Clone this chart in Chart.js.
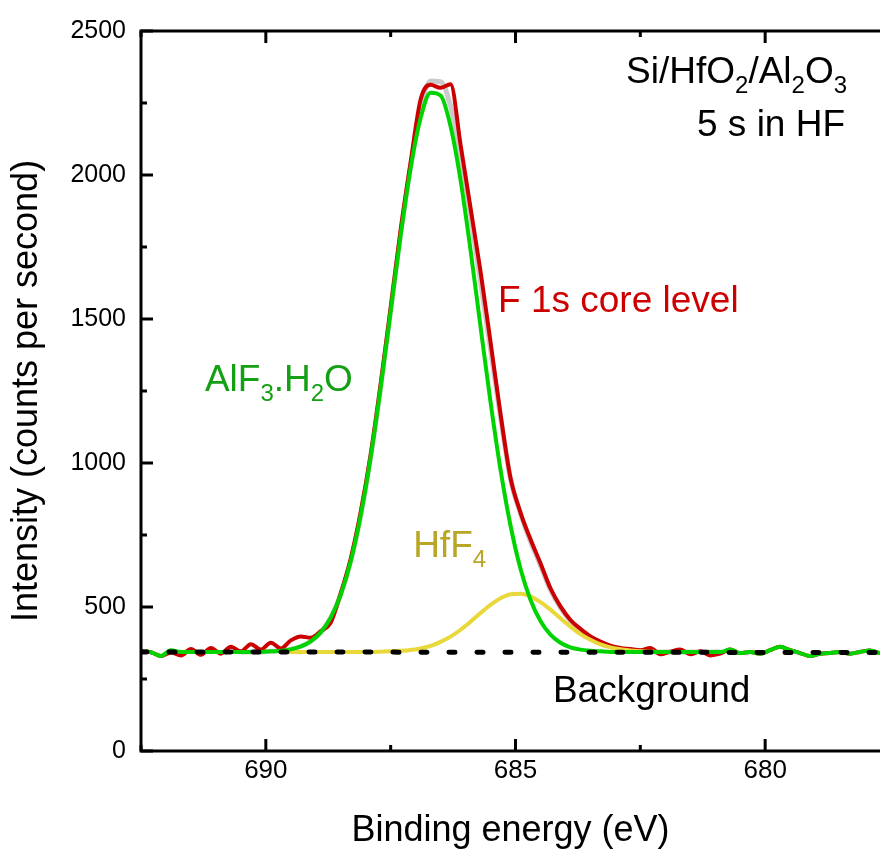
<!DOCTYPE html>
<html>
<head>
<meta charset="utf-8">
<script src="https://cdn.jsdelivr.net/npm/chart.js@4.4.1/dist/chart.umd.min.js"></script>
<style>
  html, body { margin: 0; padding: 0; background: #fff; overflow: hidden; }
  canvas { display: block; }
</style>
</head>
<body>
<canvas id="xps" width="880" height="856"></canvas>
<script>
// F 1s spectrum, binding energy in eV (0.2 eV steps)
const energy = [
  692.5, 692.3, 692.1, 691.9, 691.7, 691.5, 691.3, 691.1, 690.9, 690.7,
  690.5, 690.3, 690.1, 689.9, 689.7, 689.5, 689.3, 689.1, 688.9, 688.7,
  688.5, 688.3, 688.1, 687.9, 687.7, 687.5, 687.3, 687.1, 686.9, 686.7,
  686.5, 686.3, 686.1, 685.9, 685.7, 685.5, 685.3, 685.1, 684.9, 684.7,
  684.5, 684.3, 684.1, 683.9, 683.7, 683.5, 683.3, 683.1, 682.9, 682.7,
  682.5, 682.3, 682.1, 681.9, 681.7, 681.5, 681.3, 681.1, 680.9, 680.7,
  680.5, 680.3, 680.1, 679.9, 679.7, 679.5, 679.3, 679.1, 678.9, 678.7,
  678.5, 678.3, 678.1, 677.9, 677.7
];

// measured counts per second
const measured = [
  346, 343, 330, 342, 332, 354, 334, 358, 338, 362,
  346, 371, 352, 376, 356, 384, 398, 393, 416, 446,
  548, 668, 830, 1030, 1275, 1540, 1810, 2045, 2262, 2313,
  2303, 2315, 2105, 1885, 1665, 1420, 1170, 948, 828, 735,
  652, 565, 502, 455, 424, 398, 380, 366, 358, 354,
  350, 358, 336, 345, 352, 336, 346, 332, 338, 352,
  340, 344, 338, 350, 362, 350, 340, 330, 338, 340,
  344, 338, 344, 349, 340
];

// AlF3.H2O component (data outside the fit window)
const fitAlF3 = [
  346, 343, 330, 350, 344, 344, 344, 344, 344, 344,
  344, 344, 344, 346, 348, 353, 363, 381, 412, 463,
  543, 659, 818, 1021, 1262, 1527, 1791, 2024, 2198, 2286,
  2276, 2169, 1982, 1739, 1473, 1212, 977, 783, 633, 525,
  451, 404, 376, 360, 352, 348, 346, 344, 344, 344,
  344, 344, 344, 344, 344, 344, 344, 344, 344, 352,
  340, 344, 338, 350, 362, 350, 340, 330, 338, 340,
  344, 338, 344, 349, 340
];

// HfF4 component
const fitHfF4 = [
  null, null, null, null, null, null, null, null, null, null,
  null, null, null, null, 344, 344, 344, 344, 344, 344,
  344, 344, 344, 344, 345, 346, 348, 351, 356, 365,
  379, 397, 421, 449, 479, 507, 530, 544, 546, 537,
  517, 491, 461, 432, 406, 386, 370, 360, 353, 349,
  346, 345, 344, 344, 344, 344, null, null, null, null,
  null, null, null, null, null, null, null, null, null, null,
  null, null, null, null, null
];

// sum of both components
const envelope = [
  null, null, null, null, null, null, null, null, null, null,
  344, 344, 344, 346, 348, 353, 363, 381, 412, 463,
  543, 659, 818, 1021, 1263, 1529, 1795, 2031, 2230, 2326,
  2324, 2240, 2070, 1860, 1630, 1395, 1160, 945, 825, 728,
  645, 560, 498, 452, 420, 395, 376, 363, 355, 349,
  346, 345, 344, 344, 344, 344, 344, 344, 344, null,
  null, null, null, null, null, null, null, null, null, null,
  null, null, null, null, null
];

// linear background
const bgEnergy = [692.5, 677.7];
const bgCounts = [344, 342];

const xTicks = [690, 685, 680];
const xMinor = [692.5, 687.5, 682.5];
const yTicks = [0, 500, 1000, 1500, 2000, 2500];
const yMinor = [250, 750, 1250, 1750, 2250];

const FONT = "'Liberation Sans', Arial, sans-serif";

const pts = (xs, ys) => xs.map((x, i) => ({ x: x, y: ys[i] }));

// labels on the plot; a true second entry draws a subscript
const notes = [
  { e: 678.36, c: 2319, align: 'right', color: '#000',
    parts: [['Si/HfO'], ['2', true], ['/Al'], ['2', true], ['O'], ['3', true]] },
  { e: 678.40, c: 2134, align: 'right', color: '#000', parts: [['5 s in HF']] },
  { e: 685.35, c: 1524, align: 'left', color: '#cc0000', parts: [['F 1s core level']] },
  { e: 691.22, c: 1250, align: 'left', color: '#14a014',
    parts: [['AlF'], ['3', true], ['.H'], ['2', true], ['O']] },
  { e: 687.05, c: 673, align: 'left', color: '#b8a624', parts: [['HfF'], ['4', true]] },
  { e: 684.25, c: 170, align: 'left', color: '#000', parts: [['Background']] }
];

function drawNote(ctx, note, x, y) {
  const big = '37px ' + FONT;
  const small = '24px ' + FONT;
  let w = 0;
  note.parts.forEach(p => { ctx.font = p[1] ? small : big; w += ctx.measureText(p[0]).width; });
  let cx = note.align === 'right' ? x - w : x;
  ctx.fillStyle = note.color;
  ctx.textAlign = 'left';
  ctx.textBaseline = 'alphabetic';
  note.parts.forEach(p => {
    ctx.font = p[1] ? small : big;
    ctx.fillText(p[0], cx, p[1] ? y + 10 : y);
    cx += ctx.measureText(p[0]).width;
  });
}

// axis box with inward ticks, plus the text labels
const frame = {
  id: 'frame',
  afterDatasetsDraw(chart) {
    const { ctx, chartArea: a, scales: { x, y } } = chart;
    ctx.save();
    ctx.strokeStyle = '#000';
    ctx.lineWidth = 3;
    const seg = (x1, y1, x2, y2) => { ctx.beginPath(); ctx.moveTo(x1, y1); ctx.lineTo(x2, y2); ctx.stroke(); };
    ctx.beginPath();
    ctx.moveTo(a.right + 5, a.top);
    ctx.lineTo(a.left, a.top);
    ctx.lineTo(a.left, a.bottom);
    ctx.lineTo(a.right + 5, a.bottom);
    ctx.stroke();
    xTicks.forEach(v => {
      const px = x.getPixelForValue(v);
      seg(px, a.bottom, px, a.bottom - 12);
      seg(px, a.top, px, a.top + 12);
    });
    xMinor.forEach(v => {
      const px = x.getPixelForValue(v);
      seg(px, a.bottom, px, a.bottom - 6);
      seg(px, a.top, px, a.top + 6);
    });
    yTicks.forEach(v => { const py = y.getPixelForValue(v); seg(a.left, py, a.left + 12, py); });
    yMinor.forEach(v => { const py = y.getPixelForValue(v); seg(a.left, py, a.left + 6, py); });
    notes.forEach(n => drawNote(ctx, n, x.getPixelForValue(n.e), y.getPixelForValue(n.c)));
    ctx.restore();
  }
};

const line = (data, color, width) => ({
  data: data, borderColor: color, borderWidth: width, pointRadius: 0,
  cubicInterpolationMode: 'monotone', fill: false, spanGaps: false
});

const bgSet = line(pts(bgEnergy, bgCounts), '#000', 5);
bgSet.borderDash = [6, 22];
bgSet.borderCapStyle = 'round';

new Chart(document.getElementById('xps'), {
  type: 'line',
  data: {
    datasets: [
      bgSet,
      line(pts(energy, fitAlF3), '#00d400', 4),
      line(pts(energy, fitHfF4), '#e8d83a', 4),
      line(pts(energy, measured), '#cc0000', 4),
      line(pts(energy, envelope), '#cacaca', 5)
    ]
  },
  options: {
    responsive: false,
    animation: false,
    devicePixelRatio: 1,
    layout: { padding: { top: 31, left: 0, right: 0, bottom: 0 } },
    plugins: { legend: { display: false }, tooltip: { enabled: false } },
    scales: {
      x: {
        type: 'linear', reverse: true, min: 677.7, max: 692.5,
        afterBuildTicks: s => { s.ticks = xTicks.map(v => ({ value: v })); },
        afterFit: s => { s.height = 105; },
        grid: { display: false, drawTicks: false },
        border: { display: false },
        ticks: { font: { family: FONT, size: 26 }, color: '#000', padding: 4, maxRotation: 0,
                 callback: v => String(v) },
        title: {
          display: true, text: 'Binding energy (eV)', color: '#000',
          font: { family: FONT, size: 36 }, padding: { top: 0, bottom: 3 }
        }
      },
      y: {
        type: 'linear', min: 0, max: 2500,
        afterBuildTicks: s => { s.ticks = yTicks.map(v => ({ value: v })); },
        afterFit: s => { s.width = 141; },
        grid: { display: false, drawTicks: false },
        border: { display: false },
        ticks: { font: { family: FONT, size: 25 }, color: '#000', padding: 15,
                 callback: v => String(v) },
        title: {
          display: true, text: 'Intensity (counts per second)', color: '#000',
          font: { family: FONT, size: 36 }, padding: { top: 5, bottom: 0 }
        }
      }
    }
  },
  plugins: [frame]
});
</script>
</body>
</html>
